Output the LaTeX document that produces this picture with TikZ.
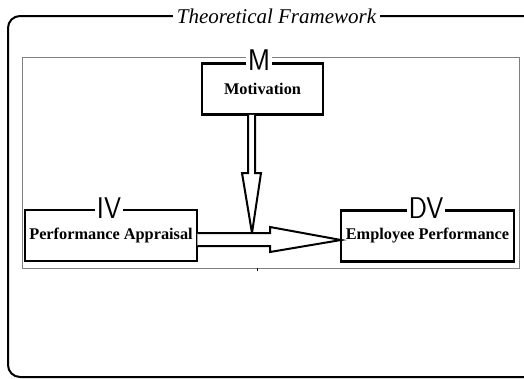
\documentclass[tikz,border=0pt]{standalone}
\usepackage{fontspec}
\setmainfont{Liberation Serif}
\usetikzlibrary{calc}
\newcommand{\tagtext}[1]{\scalebox{1.05}[1.15]{#1}}
\begin{document}
\begin{tikzpicture}[x=1pt,y=-1pt,
  box/.style={draw, line width=2.5pt, fill=white, minimum width=#1, minimum height=51pt, inner sep=0pt, font=\fontsize{16.3}{18}\selectfont\bfseries},
  tag/.style={fill=white, inner xsep=1.5pt, inner ysep=0pt, font=\fontsize{26}{28}\selectfont\sffamily},
  blockarrow/.style={draw, line width=2pt, fill=white, line join=miter}]
\useasboundingbox (0,0) rectangle (524,378);
\clip (0,0) rectangle (524,378);
% outer frame
\draw[line width=2pt, rounded corners=12pt] (540,16) -- (8,16) -- (8,377) -- (540,377);
\node[fill=white, inner xsep=4pt, inner ysep=0pt, font=\fontsize{21}{24}\selectfont\itshape] (title) at (276.5,16) {Theoretical Framework};
% inner frame
\draw[gray, line width=1pt] (22,57) rectangle (519,268);
\draw[line width=1pt] (257,268) -- (257,270.5);
% boxes
\node[box=121pt] (mot) at (262.5,89) {Motivation};
\node[box=172pt] (pa) at (111,235.5) {Performance Appraisal};
\node[box=173pt] (ep) at (427.5,236) {Employee Performance};
% tags
\node[tag] (m) at (259,60) {\tagtext{M}};
\node[tag] (iv) at (109,208) {\tagtext{IV}};
\node[tag] (dv) at (426,208) {\tagtext{DV}};
% arrows
\coordinate (tipv) at (252,233);
\coordinate (tiph) at (341,240);
\draw[blockarrow] ($(mot.south)+(-14.5,-1)$) -- (248,173) -- (242,173) -- (tipv) -- (261,173) -- (255,173) -- ($(mot.south)+(-7.5,-1)$);
\draw[blockarrow] ($(pa.east)+(-1,-2.5)$) -- (270,233) -- (270,227) -- (tiph) -- (270,252) -- (270,246) -- ($(pa.east)+(-1,10.5)$);
\end{tikzpicture}
\end{document}
